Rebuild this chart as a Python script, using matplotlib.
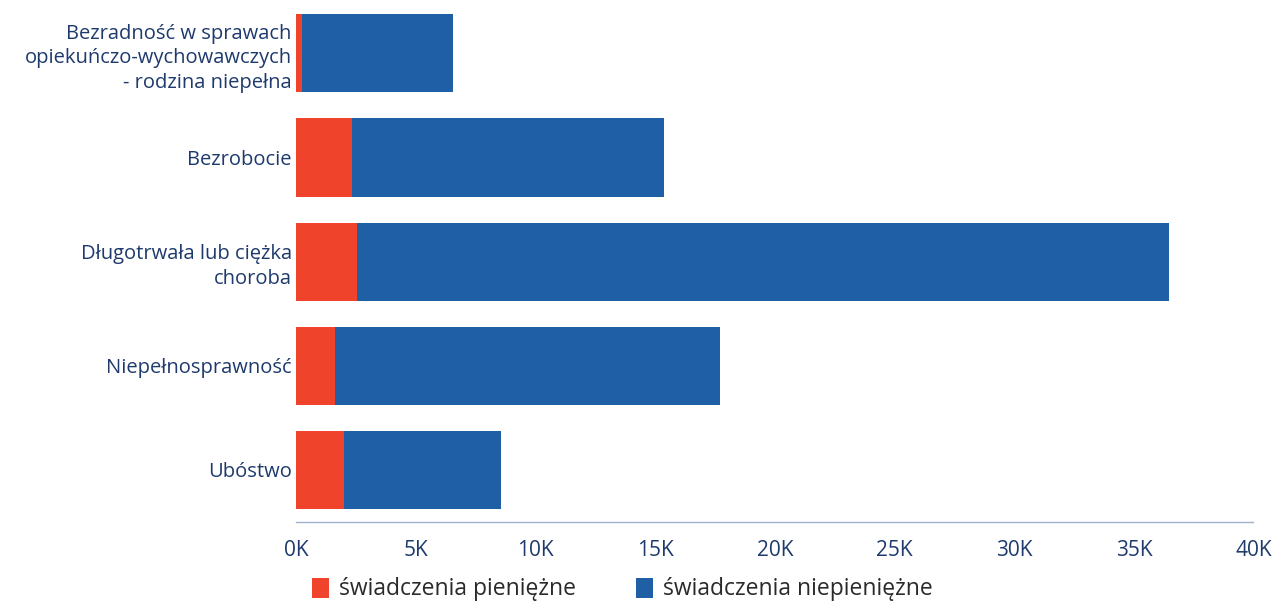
import matplotlib.pyplot as plt
import numpy as np

plt.rcParams['font.family'] = ['Open Sans', 'DejaVu Sans']

kategorie = ['Bezradność w sprawach\nopiekuńczo-wychowawczych\n- rodzina niepełna',
             'Bezrobocie',
             'Długotrwała lub ciężka\nchoroba',
             'Niepełnosprawność',
             'Ubóstwo']
pieniezne = [270, 2340, 2550, 1620, 2010]
niepieniezne = [6290, 13030, 33900, 16090, 6550]
ticks = [0, 5000, 10000, 15000, 20000, 25000, 30000, 35000, 40000]
tick_labels = ['0K', '5K', '10K', '15K', '20K', '25K', '30K', '35K', '40K']

czerwony = '#ef432b'
niebieski = '#1f5fa6'
tekst = '#1e3a6d'

fig = plt.figure(figsize=(12.77, 6.04), dpi=100)
ax = fig.add_axes([0.2318, 0.1358, 0.7502, 0.862])

y = np.arange(len(kategorie))
ax.barh(y, pieniezne, height=0.75, color=czerwony, label='świadczenia pieniężne')
ax.barh(y, niepieniezne, left=pieniezne, height=0.75, color=niebieski,
        label='świadczenia niepieniężne')

ax.set_ylim(len(kategorie) - 0.5, -0.5)
ax.set_xlim(0, 40000)
ax.set_yticks(y)
ax.set_yticklabels(kategorie, fontsize=14.5, color=tekst, linespacing=1.3)
ax.set_xticks(ticks)
ax.set_xticklabels(tick_labels, fontsize=15, color=tekst)
ax.tick_params(axis='y', length=0, pad=3)
ax.tick_params(axis='x', length=0, pad=13)

for s in ['top', 'right', 'left']:
    ax.spines[s].set_visible(False)
ax.spines['bottom'].set_color('#9fb0c8')
ax.spines['bottom'].set_linestyle((0, (1, 1)))
ax.spines['bottom'].set_linewidth(1)

ax.legend(loc='lower left', bbox_to_anchor=(0.228, -0.030), bbox_transform=fig.transFigure,
          ncol=2, frameon=False, fontsize=16.5, handlelength=0.75, handleheight=0.95,
          handletextpad=0.45, columnspacing=2.6, labelcolor='#2a2a2a')

fig.savefig('out.png', dpi=100)
